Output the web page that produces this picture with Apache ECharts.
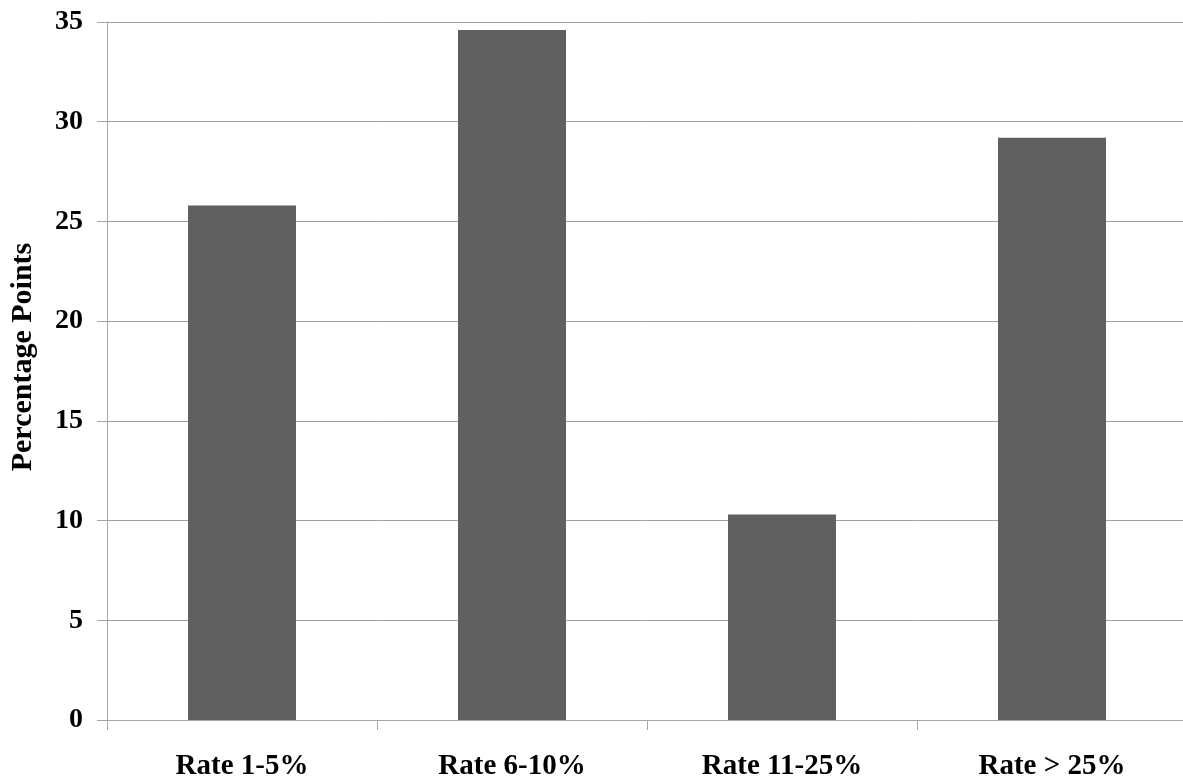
<!DOCTYPE html>
<html>
<head>
<meta charset="utf-8">
<script src="https://cdn.jsdelivr.net/npm/echarts@6/dist/echarts.min.js"></script>
<style>
  html, body { margin: 0; padding: 0; background: #ffffff; }
  #chart { width: 1183px; height: 781px; }
</style>
</head>
<body>
<div id="chart"></div>
<script>
// Rate groups and their values in percentage points
const categories = ['Rate 1-5%', 'Rate 6-10%', 'Rate 11-25%', 'Rate > 25%'];
const values = [25.8, 34.6, 10.3, 29.2];
const yTicks = { min: 0, max: 35, interval: 5 };

const font = '"Liberation Serif", "Times New Roman", serif';

const chart = echarts.init(document.getElementById('chart'), null, { renderer: 'canvas' });
chart.setOption({
  backgroundColor: '#ffffff',
  animation: false,
  grid: {
    left: 107, top: 22, width: 1080, height: 698,
    containLabel: false,
    outerBoundsMode: 'none'
  },
  xAxis: {
    type: 'category',
    data: categories,
    axisLine: { show: true, lineStyle: { color: '#a6a6a6', width: 1 } },
    axisTick: { show: true, alignWithLabel: false, length: 10, lineStyle: { color: '#a6a6a6' } },
    axisLabel: {
      color: '#000000', fontFamily: font, fontWeight: 'bold', fontSize: 29, margin: 32
    },
    splitLine: { show: false }
  },
  yAxis: {
    type: 'value',
    min: yTicks.min, max: yTicks.max, interval: yTicks.interval,
    name: 'Percentage Points',
    nameLocation: 'middle',
    nameGap: 69,
    nameRotate: 90,
    nameTextStyle: {
      color: '#000000', fontFamily: font, fontWeight: 'bold', fontSize: 30,
      padding: [0, 0, 0, 28]
    },
    axisLine: { show: true, lineStyle: { color: '#a6a6a6', width: 1 } },
    axisTick: { show: true, length: 10, lineStyle: { color: '#a6a6a6' } },
    axisLabel: {
      color: '#000000', fontFamily: font, fontWeight: 'bold', fontSize: 28, margin: 24
    },
    splitLine: { show: true, lineStyle: { color: '#a0a0a0', width: 1 } }
  },
  series: [{
    type: 'bar',
    data: values,
    barWidth: '40%',
    itemStyle: { color: '#606060' },
    silent: true
  }]
});
</script>
</body>
</html>
